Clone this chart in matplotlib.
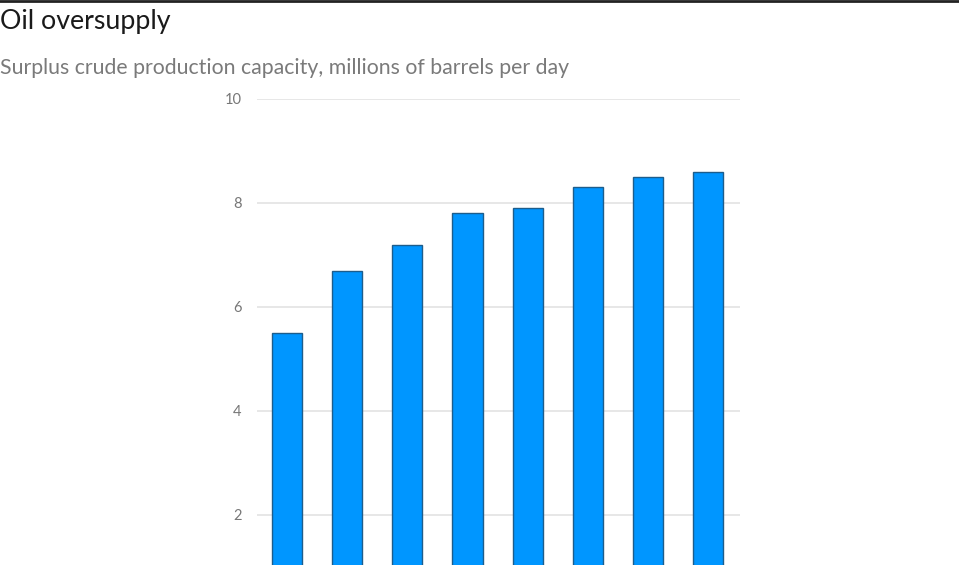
import numpy as np
import matplotlib.pyplot as plt

# surplus capacity, millions of barrels per day (bars left to right)
values = [5.5, 6.7, 7.2, 7.8, 7.9, 8.3, 8.5, 8.6]
yticks = [2, 4, 6, 8, 10]

plt.rcParams['font.family'] = ['Lato', 'DejaVu Sans']

fig = plt.figure(figsize=(9.59, 5.65), dpi=100)
W, H = 959, 565

# plot area: x 257..740 px, y from 0 at 619 px (below the crop) to 10 at 99 px
ax = fig.add_axes([257 / W, (H - 619) / H, (740 - 257) / W, 520 / H])
x = np.arange(len(values))
ax.bar(x, values, width=0.5, color='#0096ff', edgecolor='#1d5d8c',
       linewidth=1, zorder=3)

ax.set_xlim(-0.5, 7.53)
ax.set_ylim(0, 10)
ax.set_yticks(yticks)
ax.set_yticklabels([str(t) for t in yticks])
ax.set_xticks([])
ax.grid(axis='y', color='#e3e3e3', linewidth=1.2, zorder=0)
ax.tick_params(axis='y', length=0, pad=11, labelsize=10.5, labelcolor='#777777')
for s in ax.spines.values():
    s.set_visible(False)

# top rule
fig.add_artist(plt.Line2D([0, 1], [1 - 1 / H, 1 - 1 / H], color='#222222',
                          linewidth=2, transform=fig.transFigure))

fig.text(0.0, 1 - 22 / H, 'Oil oversupply', fontsize=19.3, color='#1a1a1a',
         ha='left', va='center')
fig.text(0.0, 1 - 68 / H,
         'Surplus crude production capacity, millions of barrels per day',
         fontsize=15.3, color='#7a7a7a', ha='left', va='center')

fig.savefig('out.png', dpi=100)
